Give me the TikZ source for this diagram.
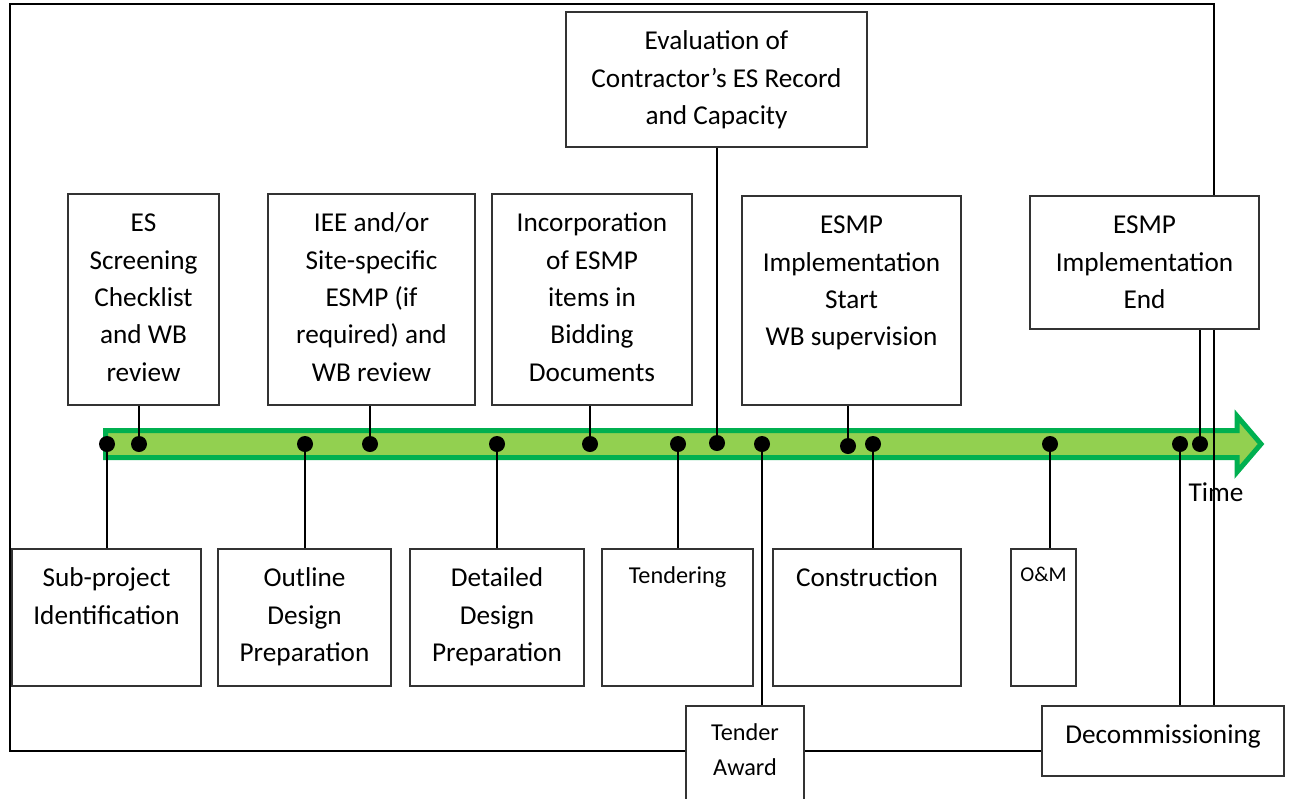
\documentclass[tikz,border=0pt]{standalone}
\usepackage{fontspec}
\setmainfont{Carlito}
\usetikzlibrary{calc}
\definecolor{darkgreen}{HTML}{00B050}
\definecolor{lightgreen}{HTML}{92D050}

\tikzset{
    box/.style={draw=black!80, line width=0.8pt, fill=white, inner sep=0pt},
    txt/.style={anchor=north, align=center, inner sep=0pt, yshift=-6.7pt, font=\fontsize{15.5}{21.3}\selectfont},
    smalltxt/.style={anchor=north, align=center, inner sep=0pt, yshift=-5.9pt, font=\fontsize{13.8}{19.8}\selectfont},
    tinytxt/.style={anchor=north, align=center, inner sep=0pt, yshift=-9pt, font=\fontsize{12}{14}\selectfont},
    dot/.style={circle, fill=black, inner sep=0pt, minimum size=0.32cm},
    link/.style={line width=1pt},
    frame/.style={line width=1pt}
}

\begin{document}
\begin{tikzpicture}[x=0.02cm, y=-0.02cm]
        \useasboundingbox (0,0) rectangle (1293,798);

        \draw[darkgreen, fill=lightgreen, line width=0.1cm] (105.5,430.5) -- (1237,430.5) -- (1237,416) -- (1261,444) -- (1237,472) -- (1237,457.5) -- (105.5,457.5) -- cycle;
        \node[font=\fontsize{15.5}{21.3}\selectfont, inner sep=0pt] (timeLbl) at (1216,492) {Time};

        \draw[frame] (10,4) rectangle (1214,751);

        \node[dot] (p1) at (107,444) {};
        \node[dot] (p2) at (139,444) {};
        \node[dot] (p3) at (305,444) {};
        \node[dot] (p4) at (370,444) {};
        \node[dot] (p5) at (497,444) {};
        \node[dot] (p6) at (590,444) {};
        \node[dot] (p7) at (678,444) {};
        \node[dot] (p8) at (717,443) {};
        \node[dot] (p9) at (762,444) {};
        \node[dot] (p10) at (848,446) {};
        \node[dot] (p11) at (873,444) {};
        \node[dot] (p12) at (1050,444) {};
        \node[dot] (p13) at (1180,444) {};
        \node[dot] (p14) at (1200,444) {};

        \node[box, minimum width=3.02cm, minimum height=4.22cm, label={[txt, name=screenTxt]north:{\strut ES\\Screening\\Checklist\\and WB\\review}}] (screen) at (143.5,299.5) {};
        \node[box, minimum width=4.14cm, minimum height=4.22cm, label={[txt, name=ieeTxt]north:{\strut IEE and/or\\Site-specific\\ESMP (if\\required) and\\WB review}}] (iee) at (371.5,299.5) {};
        \node[box, minimum width=4.00cm, minimum height=4.22cm, label={[txt, name=incorpTxt]north:{\strut Incorporation\\of ESMP\\items in\\Bidding\\Documents}}] (incorp) at (592,299.5) {};
        \node[box, minimum width=6.02cm, minimum height=2.70cm, label={[txt, name=evaluTxt]north:{\strut Evaluation of\\Contractor’s ES Record\\and Capacity}}] (evalu) at (716.5,79.5) {};
        \node[box, minimum width=4.38cm, minimum height=4.18cm, label={[txt, name=startTxt]north:{\strut ESMP\\Implementation\\Start\\WB supervision}}] (start) at (851.5,300.5) {};
        \node[box, minimum width=4.58cm, minimum height=2.66cm, label={[txt, name=finishTxt]north:{\strut ESMP\\Implementation\\End}}] (finish) at (1144.5,262.5) {};

        \node[box, minimum width=3.78cm, minimum height=2.74cm, label={[txt, name=subprojTxt]north:{\strut Sub-project\\Identification}}] (subproj) at (106.5,617.5) {};
        \node[box, minimum width=3.46cm, minimum height=2.74cm, label={[txt, name=outlineTxt]north:{\strut Outline\\Design\\Preparation}}] (outline) at (304.5,617.5) {};
        \node[box, minimum width=3.48cm, minimum height=2.74cm, label={[txt, name=detailedTxt]north:{\strut Detailed\\Design\\Preparation}}] (detailed) at (497,617.5) {};
        \node[box, minimum width=3.02cm, minimum height=2.74cm, label={[smalltxt, name=tenderTxt]north:{\strut Tendering}}] (tender) at (677.5,617.5) {};
        \node[box, minimum width=3.76cm, minimum height=2.74cm, label={[txt, name=constrTxt]north:{\strut Construction}}] (constr) at (867,617.5) {};
        \node[box, minimum width=1.30cm, minimum height=2.74cm, label={[tinytxt, name=omTxt]north:{\strut O\&M}}] (om) at (1043.5,617.5) {};
        \node[box, minimum width=2.36cm, minimum height=2.16cm, label={[smalltxt, name=awardTxt]north:{\strut Tender\\Award}}] (award) at (745,760) {};
        \node[box, minimum width=4.84cm, minimum height=1.40cm, label={[txt, name=decomTxt]north:{\strut Decommissioning}}] (decom) at (1163,741) {};

        \draw[link] (p1.center) -- (p1 |- subproj.north);
        \draw[link] (p2.center) -- (p2 |- screen.south);
        \draw[link] (p3.center) -- (p3 |- outline.north);
        \draw[link] (p4.center) -- (p4 |- iee.south);
        \draw[link] (p5.center) -- (p5 |- detailed.north);
        \draw[link] (p6.center) -- (p6 |- incorp.south);
        \draw[link] (p7.center) -- (p7 |- tender.north);
        \draw[link] (p8.center) -- (p8 |- evalu.south);
        \draw[link] (p9.center) -- (p9 |- award.north);
        \draw[link] (p10.center) -- (p10 |- start.south);
        \draw[link] (p11.center) -- (p11 |- constr.north);
        \draw[link] (p12.center) -- (p12 |- om.north);
        \draw[link] (p13.center) -- (p13 |- decom.north);
        \draw[link] (p14.center) -- (p14 |- finish.south);
    \end{tikzpicture}
\end{document}
